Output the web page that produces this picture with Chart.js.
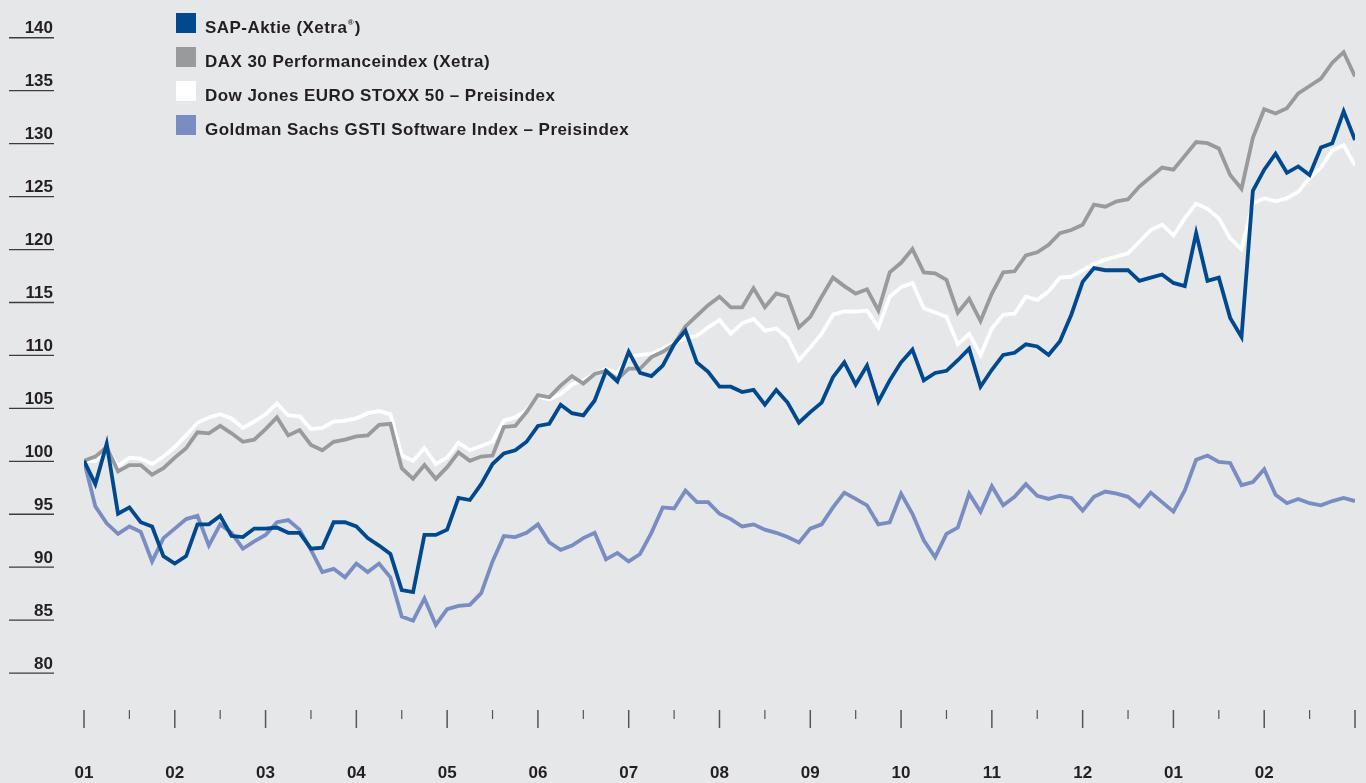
<!DOCTYPE html>
<html>
<head>
<meta charset="utf-8">
<script src="https://cdn.jsdelivr.net/npm/chart.js@4/dist/chart.umd.min.js"></script>
<style>
  html, body { margin: 0; padding: 0; background: #e6e7e9; overflow: hidden; }
  canvas { display: block; }
</style>
</head>
<body>
<canvas id="chart" width="1366" height="783"></canvas>
<script>
// month labels (Jan 2001 .. Feb 2002 style), one per month start
const monthLabels = ["01", "02", "03", "04", "05", "06", "07", "08", "09", "10", "11", "12", "01", "02"];
const yTicks = [80, 85, 90, 95, 100, 105, 110, 115, 120, 125, 130, 135, 140];

const seriesNames = [
  "SAP-Aktie (Xetra®)",
  "DAX 30 Performanceindex (Xetra)",
  "Dow Jones EURO STOXX 50 – Preisindex",
  "Goldman Sachs GSTI Software Index – Preisindex"
];

// one value every 1/8 month, indexed to 100
const sap = [100, 97.8, 101.6, 95, 95.6, 94.2, 93.8, 91, 90.3, 91,
  94, 94, 94.8, 92.9, 92.8, 93.6, 93.6, 93.7, 93.2, 93.2,
  91.7, 91.8, 94.2, 94.2, 93.8, 92.7, 92, 91.2, 87.8, 87.6,
  93, 93, 93.5, 96.5, 96.3, 97.8, 99.7, 100.7, 101, 101.8,
  103.3, 103.5, 105.3, 104.5, 104.3, 105.7, 108.5, 107.5, 110.3, 108.3,
  108, 109, 111, 112.3, 109.3, 108.4, 107, 107, 106.5, 106.7,
  105.3, 106.7, 105.5, 103.6, 104.6, 105.5, 107.9, 109.3, 107.2, 109,
  105.6, 107.6, 109.3, 110.5, 107.6, 108.3, 108.5, 109.5, 110.6, 107,
  108.6, 110, 110.2, 111, 110.8, 110, 111.3, 113.8, 116.9, 118.2,
  118, 118, 118, 117, 117.3, 117.6, 116.8, 116.5, 121.5, 117,
  117.3, 113.5, 111.7, 125.5, 127.5, 129, 127.2, 127.8, 127, 129.6,
  130, 133, 130.3];

const dax = [100, 100.4, 101.3, 99, 99.6, 99.6, 98.7, 99.3, 100.3, 101.2,
  102.7, 102.6, 103.3, 102.6, 101.8, 102, 103, 104.1, 102.4, 102.9,
  101.5, 101, 101.8, 102, 102.3, 102.4, 103.4, 103.5, 99.3, 98.3,
  99.6, 98.3, 99.4, 100.8, 100, 100.4, 100.5, 103.2, 103.3, 104.6,
  106.2, 106, 107.1, 108, 107.3, 108.2, 108.5, 107.7, 108.7, 108.7,
  109.8, 110.3, 111, 112.7, 113.7, 114.7, 115.5, 114.5, 114.5, 116.3,
  114.5, 115.8, 115.5, 112.6, 113.6, 115.5, 117.3, 116.5, 115.8, 116.2,
  114.2, 117.8, 118.7, 120, 117.8, 117.7, 117.1, 114, 115.3, 113.2,
  115.8, 117.8, 117.9, 119.4, 119.7, 120.4, 121.5, 121.8, 122.3, 124.2,
  124, 124.5, 124.7, 125.9, 126.8, 127.7, 127.5, 128.8, 130.1, 130,
  129.5, 127, 125.7, 130.5, 133.2, 132.8, 133.3, 134.7, 135.4, 136.1,
  137.6, 138.6, 136.3];

const stoxx = [100, 100, 101.2, 99.5, 100.3, 100.2, 99.7, 100.4, 101.3, 102.4,
  103.6, 104.1, 104.4, 104, 103.1, 103.7, 104.4, 105.4, 104.3, 104.2,
  103, 103.1, 103.7, 103.8, 104, 104.5, 104.7, 104.4, 100.5, 100,
  101.2, 99.7, 100.3, 101.7, 101, 101.4, 101.8, 103.8, 104.1, 104.8,
  106.1, 105.8, 106.3, 107.2, 107.6, 108.2, 108.7, 108.3, 109.8, 110,
  110.1, 110.6, 111.1, 111.6, 111.8, 112.6, 113.3, 112, 113, 113.4,
  112.3, 112.5, 111.6, 109.5, 110.7, 112, 113.8, 114.1, 114.1, 114.2,
  112.6, 115.5, 116.4, 116.8, 114.4, 114, 113.6, 111, 112, 110,
  112.5, 113.8, 113.9, 115.5, 115.2, 116, 117.3, 117.4, 118, 118.6,
  119, 119.3, 119.6, 120.7, 121.8, 122.3, 121.3, 122.9, 124.3, 123.8,
  122.9, 121, 120, 124.3, 124.8, 124.5, 124.8, 125.4, 126.7, 127.7,
  129.3, 129.8, 127.9];

const gsti = [100, 95.7, 94.1, 93.1, 93.8, 93.3, 90.5, 92.7, 93.6, 94.5,
  94.8, 92, 94, 93.2, 91.7, 92.4, 93, 94.2, 94.4, 93.5,
  91.6, 89.5, 89.8, 89, 90.3, 89.5, 90.3, 89, 85.3, 84.9,
  87, 84.5, 86, 86.3, 86.4, 87.5, 90.5, 92.9, 92.8, 93.2,
  94, 92.3, 91.6, 92, 92.7, 93.2, 90.7, 91.3, 90.5, 91.2,
  93.2, 95.6, 95.5, 97.2, 96.1, 96.1, 95, 94.5, 93.8, 94,
  93.5, 93.2, 92.8, 92.3, 93.6, 94, 95.6, 97, 96.4, 95.8,
  94, 94.2, 96.9, 95, 92.5, 90.9, 93.1, 93.7, 96.9, 95.2,
  97.6, 95.8, 96.6, 97.8, 96.7, 96.4, 96.7, 96.5, 95.3, 96.6,
  97.1, 96.9, 96.6, 95.7, 97, 96.1, 95.2, 97.2, 100.1, 100.5,
  99.9, 99.8, 97.7, 98, 99.2, 96.8, 96, 96.4, 96, 95.8,
  96.2, 96.5, 96.2];

const colors = ["#00498f", "#999a9c", "#ffffff", "#7a8dc2"];
const step = 1 / 8;
const toPoints = vals => vals.map((v, i) => ({ x: i * step, y: v }));
const textColor = "#231f20";
const font = "bold 17px 'Liberation Sans', Arial, sans-serif";
const legendFont = "bold 17px 'Liberation Sans', Arial, sans-serif";

const decor = {
  id: "decor",
  afterDraw(chart) {
    const ctx = chart.ctx;
    const xs = chart.scales.x, ys = chart.scales.y;
    ctx.save();

    // y axis: value above a short rule
    ctx.font = font;
    ctx.fillStyle = textColor;
    ctx.textAlign = "right";
    ctx.textBaseline = "alphabetic";
    ctx.strokeStyle = "#3c3c3c";
    ctx.lineWidth = 1.3;
    yTicks.forEach(v => {
      const py = ys.getPixelForValue(v);
      ctx.fillText(String(v), 53, py - 4);
      ctx.beginPath();
      ctx.moveTo(9, py + 0.5);
      ctx.lineTo(54, py + 0.5);
      ctx.stroke();
    });

    // x axis: month ticks, half month ticks, labels
    ctx.strokeStyle = "#555555";
    for (let m = 0; m <= monthLabels.length; m++) {
      const px = xs.getPixelForValue(m);
      ctx.lineWidth = 1.5;
      ctx.beginPath();
      ctx.moveTo(px, 710);
      ctx.lineTo(px, 728);
      ctx.stroke();
      if (m < monthLabels.length) {
        const hx = xs.getPixelForValue(m + 0.5);
        ctx.lineWidth = 1.2;
        ctx.beginPath();
        ctx.moveTo(hx, 710);
        ctx.lineTo(hx, 719);
        ctx.stroke();
      }
    }
    ctx.textAlign = "center";
    monthLabels.forEach((lab, m) => {
      ctx.fillText(lab, xs.getPixelForValue(m), 778);
    });

    // legend
    ctx.textAlign = "left";
    ctx.font = legendFont;
    ctx.letterSpacing = "0.45px";
    seriesNames.forEach((name, k) => {
      const top = 13 + k * 34;
      ctx.fillStyle = colors[k];
      ctx.fillRect(176, top, 20, 20);
      ctx.fillStyle = textColor;
      const base = top + 19.5;
      if (name.includes("®")) {
        const [a, b] = name.split("®");
        ctx.fillText(a, 205, base);
        const w = ctx.measureText(a).width;
        ctx.font = "bold 8px 'Liberation Sans', Arial, sans-serif";
        ctx.fillText("®", 205 + w + 0.5, base - 7.5);
        const sw = ctx.measureText("®").width;
        ctx.font = legendFont;
        ctx.fillText(b, 205 + w + sw + 1, base);
      } else {
        ctx.fillText(name, 205, base);
      }
    });
    ctx.restore();
  }
};

new Chart(document.getElementById("chart"), {
  type: "line",
  data: {
    datasets: [sap, dax, stoxx, gsti].map((vals, k) => ({
      label: seriesNames[k],
      data: toPoints(vals),
      borderColor: colors[k],
      borderWidth: 3.8,
      pointRadius: 0,
      tension: 0,
      fill: false
    }))
  },
  options: {
    responsive: false,
    animation: false,
    events: [],
    layout: { padding: { left: 84, right: 11, top: 5.5, bottom: 4.5 } },
    scales: {
      x: { type: "linear", min: 0, max: 14, display: false },
      y: { min: 70, max: 143, display: false }
    },
    plugins: { legend: { display: false }, tooltip: { enabled: false } }
  },
  plugins: [decor]
});
</script>
</body>
</html>
